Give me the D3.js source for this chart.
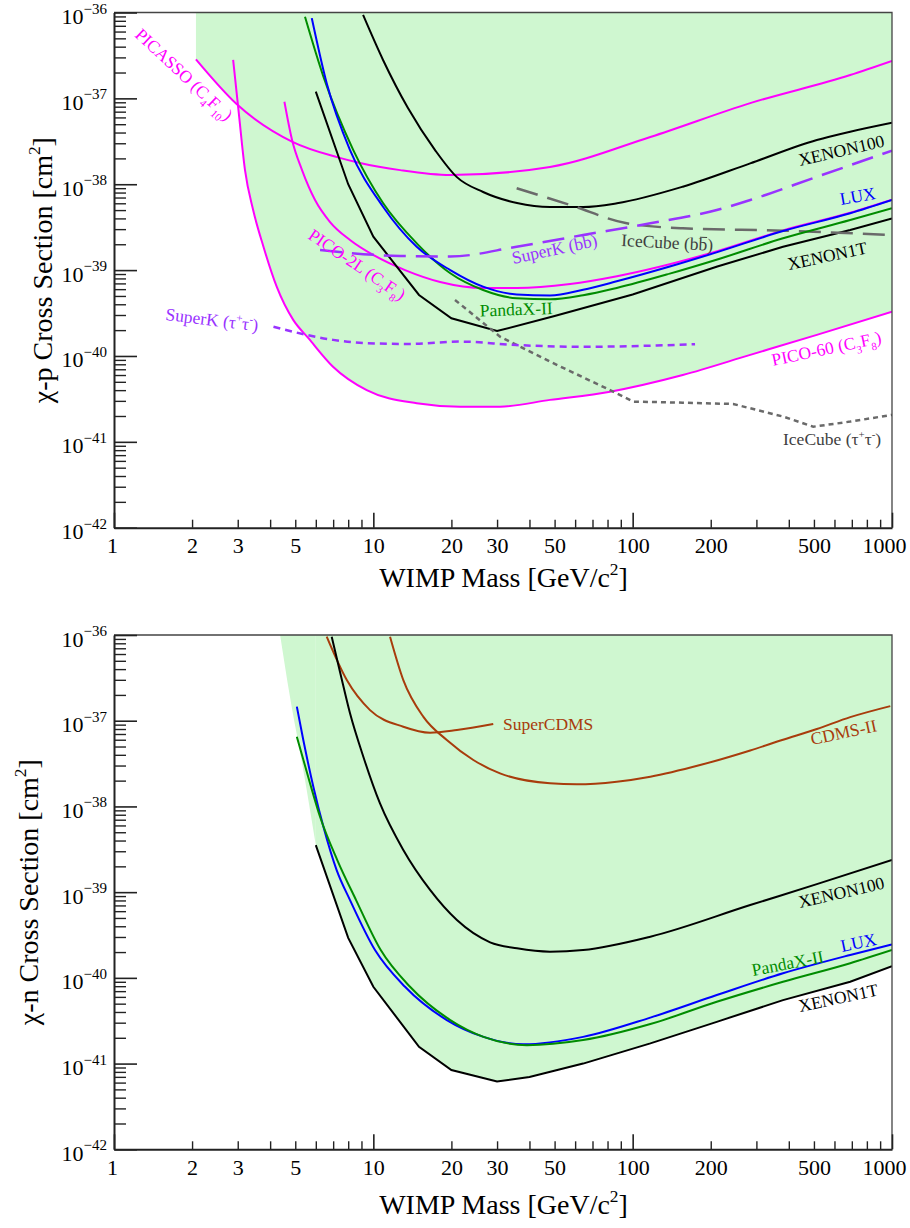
<!DOCTYPE html>
<html><head><meta charset="utf-8">
<script src="https://cdn.jsdelivr.net/npm/d3@7"></script>
<style>
html,body{margin:0;padding:0;background:#fff;}
svg text{font-family:"Liberation Serif","Times New Roman",serif;}
</style></head>
<body><svg id="chart" width="910" height="1228"></svg>
<script>
// ---------------- DATA ----------------
const massTickLabels = [1, 2, 3, 5, 10, 20, 30, 50, 100, 200, 500, 1000];
const massDecades = [1, 10, 100, 1000];
const sigmaDecades = [1e-42, 1e-41, 1e-40, 1e-39, 1e-38, 1e-37, 1e-36];

// chi-p (spin-dependent proton) panel : [mass GeV, cross section cm^2]
const picassoP = [[2.07,2.85e-37],[2.97,8.6e-38],[4.9,3.1e-38],[7.24,2.07e-38],[8.89,1.77e-38],[12.7,1.46e-38],[19.8,1.28e-38],[48,1.59e-38],[117,3.55e-38],[284,8.8e-38],[690,1.87e-37],[1000,2.73e-37]];
const pico60P = [[2.88,2.8e-37],[3.02,7.31e-38],[3.2,1.46e-38],[3.44,5.0e-39],[3.77,1.87e-39],[4.24,6.41e-40],[4.91,2.63e-40],[5.62,1.61e-40],[6.99,7.5e-41],[9.43,4.0e-41],[14.7,2.82e-41],[21.6,2.57e-41],[30.8,2.57e-41],[48,3.08e-41],[81.8,3.84e-41],[156,6.0e-41],[284,1.03e-40],[513,1.76e-40],[1000,3.28e-40]];
const pico2LP = [[4.54,9.14e-38],[4.86,3.27e-38],[5.31,1.46e-38],[5.96,6.55e-39],[6.81,3.63e-39],[8.13,2.24e-39],[10.15,1.46e-39],[13.25,1.0e-39],[18.1,7.27e-40],[26.5,6.19e-40],[35.8,6.19e-40],[57.4,6.9e-40],[87,8.5e-40],[212,1.66e-39],[380,2.9e-39],[690,4.65e-39],[1000,6.6e-39]];
const xenon100P = [[9.13,9.36e-37],[10.9,2.8e-37],[13.6,7.72e-38],[17.3,2.5e-38],[21.0,1.21e-38],[26.5,8.12e-39],[35.8,6.04e-39],[48,5.43e-39],[64.4,5.43e-39],[87,6.0e-39],[156,9.36e-39],[284,1.75e-38],[513,3.27e-38],[690,4.09e-38],[1000,5.2e-38]];
const xenon1tP = [[6,1.2e-37],[8,1.0e-38],[10,2.45e-39],[15,5.13e-40],[20,2.75e-40],[30,1.95e-40],[50,2.92e-40],[100,5.2e-40],[212,1.1e-39],[380,1.87e-39],[690,2.93e-39],[1000,4.0e-39]];
const luxP = [[5.79,8.6e-37],[6.61,1.5e-37],[8.13,2.5e-38],[10.9,5.47e-39],[14.7,1.87e-39],[19.8,1.0e-39],[26.5,6.41e-40],[35.7,5.2e-40],[48,5.06e-40],[64.4,5.9e-40],[86.8,7.4e-40],[139,1.1e-39],[212,1.62e-39],[380,2.85e-39],[690,4.59e-39],[1000,6.55e-39]];
const pandaxP = [[5.45,8.94e-37],[6.42,1.79e-37],[8.37,2.5e-38],[10.9,6.04e-39],[14.7,2.05e-39],[19.8,9.19e-40],[26.5,5.87e-40],[35.7,4.7e-40],[48,4.57e-40],[64.4,5.1e-40],[86.8,6.2e-40],[139,9.1e-40],[212,1.33e-39],[380,2.35e-39],[690,3.83e-39],[1000,5.25e-39]];
const superKbbP = [[6.23,1.71e-39],[12.7,1.46e-39],[19.8,1.44e-39],[35.7,1.87e-39],[64.4,2.56e-39],[117,3.51e-39],[211,5.0e-39],[284,6.55e-39],[513,1.22e-38],[1000,2.46e-38]];
const superKttP = [[4.12,2.19e-40],[5.53,1.76e-40],[7.0,1.54e-40],[9.43,1.41e-40],[13.8,1.38e-40],[21.6,1.47e-40],[35.7,1.34e-40],[64.4,1.28e-40],[174,1.37e-40]];
const iceCubeBbP = [[35.7,8.97e-39],[57.4,5.73e-39],[94.9,3.51e-39],[156,3.07e-39],[380,2.88e-39],[1000,2.56e-39]];
const iceCubeTtP = [[20.65,4.49e-40],[30.8,1.68e-40],[48,8.6e-41],[81.8,4.0e-41],[100.6,2.94e-41],[156,2.86e-41],[244,2.76e-41],[380,1.97e-41],[497,1.5e-41],[690,1.72e-41],[1000,2.06e-41]];

// chi-n (spin-dependent neutron) panel
const bandEdgeN = [[4.37,1e-36],[4.77,1.9e-37],[5.37,2.66e-38],[6.0,3.54e-39]];
const xenon100N = [[6.91,9.55e-37],[7.44,3.7e-37],[8.13,1.22e-37],[9.15,3.8e-38],[10.6,1.09e-38],[13.05,3.1e-39],[16.55,1.06e-39],[21.0,4.72e-40],[28.2,2.6e-40],[35.8,2.21e-40],[48,2.02e-40],[64.4,2.11e-40],[117,3.02e-40],[284,7.07e-40],[513,1.24e-39],[1000,2.37e-39]];
const xenon1tN = [[6,3.54e-39],[8,2.93e-40],[10,7.87e-41],[15,1.57e-41],[20,8.42e-42],[30,6.18e-42],[40,6.97e-42],[64.4,1.0e-41],[117,1.72e-41],[211,3.07e-41],[380,5.5e-41],[690,9.0e-41],[1000,1.37e-40]];
const luxN = [[5.07,1.46e-37],[5.37,5.95e-38],[5.87,1.7e-38],[6.42,5.79e-39],[7.22,1.81e-39],[8.13,8.08e-40],[10.15,2.11e-40],[13.25,7.87e-41],[19.2,3.22e-41],[26.6,2.05e-41],[37.9,1.68e-41],[64.4,2.05e-41],[117,3.44e-41],[211,6.3e-41],[380,1.13e-40],[690,1.85e-40],[1000,2.46e-40]];
const pandaxN = [[5.07,6.5e-38],[5.70,1.86e-38],[6.23,7.58e-39],[7.26,2.37e-39],[8.58,8.08e-40],[10.68,2.11e-40],[13.85,7.87e-41],[19.8,3.22e-41],[26.6,2.05e-41],[39.1,1.64e-41],[64.4,1.88e-41],[117,2.89e-41],[211,5.26e-41],[380,9.0e-41],[690,1.48e-40],[1000,2.11e-40]];
const superCdmsN = [[6.61,9.55e-37],[7.90,2.98e-37],[9.71,1.33e-37],[13.05,8.5e-38],[16.55,7.24e-38],[21.0,7.78e-38],[29.0,9.15e-38]];
const cdms2N = [[11.6,9.55e-37],[13.05,2.98e-37],[15.6,1.11e-37],[19.2,5.95e-38],[24.3,3.48e-38],[30.8,2.43e-38],[48,1.86e-38],[60.9,1.81e-38],[86.8,1.94e-38],[117,2.22e-38],[182,3.04e-38],[284,4.5e-38],[380,6.0e-38],[513,8.0e-38],[690,1.1e-37],[985,1.48e-37]];

// label texts
const txtPicasso = [["PICASSO (C",""],["4","sub"],["F",""],["10","sub"],[")",""]];
const txtPico2L = [["PICO-2L (C",""],["3","sub"],["F",""],["8","sub"],[")",""]];
const txtPico60 = [["PICO-60 (C",""],["3","sub"],["F",""],["8","sub"],[")",""]];
const txtSuperKtt = [["SuperK (τ",""],["+","sup"],["τ",""],["-","sup"],[")",""]];
const txtSuperKbb = [["SuperK (b",""],["b","bar"],[")",""]];
const txtIceCubeBb = [["IceCube (b",""],["b","bar"],[")",""]];
const txtIceCubeTt = [["IceCube (τ",""],["+","sup"],["τ",""],["-","sup"],[")",""]];

// ---------------- STYLE / LAYOUT ----------------
const C = {mag:"#ff00ff", blk:"#000000", blue:"#0000ff", green:"#008c00", purple:"#9933ff", gray:"#6a6a6a", grayTxt:"#404040", brown:"#a83c0c", fill:"#cff7d0"};
const X0 = 114, X1 = 892;
const smooth = d3.curveMonotoneX, lin = d3.curveLinear;

const panels = [
  { top: 12.5, bottom: 527.7, ytitle: "χ-p Cross Section [cm", ytx: 52, xty: 587,
    fills: [{d: picassoP, c: smooth}, {d: pico60P, c: smooth}],
    series: [
      {d: picassoP, col: C.mag, w: 2, c: smooth},
      {d: pico60P, col: C.mag, w: 2, c: smooth},
      {d: pico2LP, col: C.mag, w: 2, c: smooth},
      {d: xenon100P, col: C.blk, w: 2, c: smooth},
      {d: xenon1tP, col: C.blk, w: 2, c: lin},
      {d: iceCubeBbP, col: C.gray, w: 2.5, c: smooth, dash: "22,10"},
      {d: iceCubeTtP, col: C.gray, w: 2.5, c: lin, dash: "5,4"},
      {d: pandaxP, col: C.green, w: 2, c: smooth},
      {d: luxP, col: C.blue, w: 2, c: smooth},
      {d: superKttP, col: C.purple, w: 2.5, c: smooth, dash: "7,5"},
      {d: superKbbP, col: C.purple, w: 2.5, c: smooth, dash: "22,10"}
    ],
    labels: [
      {t: txtPicasso, at: [1.194, 5.33e-37], a: 43, col: C.mag},
      {t: txtPico2L, at: [5.55, 2.37e-39], a: 34, col: C.mag},
      {t: txtSuperKtt, at: [1.573, 2.63e-40], a: 7, col: C.purple},
      {t: txtSuperKbb, at: [34.6, 1.18e-39], a: -12, col: C.purple},
      {t: txtIceCubeBb, at: [90.2, 1.91e-39], a: 3, col: C.grayTxt},
      {t: [["XENON100",""]], at: [442, 1.63e-38], a: -13, col: C.blk},
      {t: [["LUX",""]], at: [636, 5.73e-39], a: -10, col: C.blue},
      {t: [["XENON1T",""]], at: [401, 1.0e-39], a: -12, col: C.blk},
      {t: [["PandaX-II",""]], at: [25.8, 2.88e-40], a: -2, col: C.green},
      {t: txtPico60, at: [348, 7.65e-41], a: -12, col: C.mag},
      {t: txtIceCubeTt, at: [380, 9.19e-42], a: 0, col: C.grayTxt}
    ]
  },
  { top: 635, bottom: 1149.3, ytitle: "χ-n Cross Section [cm", ytx: 38, xty: 1214,
    fills: [{d: bandEdgeN, c: smooth}, {d: xenon1tN, c: lin}],
    series: [
      {d: superCdmsN, col: C.brown, w: 2, c: smooth},
      {d: cdms2N, col: C.brown, w: 2, c: smooth},
      {d: xenon100N, col: C.blk, w: 2, c: smooth},
      {d: xenon1tN, col: C.blk, w: 2, c: lin},
      {d: luxN, col: C.blue, w: 2, c: smooth},
      {d: pandaxN, col: C.green, w: 2, c: smooth}
    ],
    labels: [
      {t: [["SuperCDMS",""]], at: [31.6, 7.79e-38], a: 0, col: C.brown},
      {t: [["CDMS-II",""]], at: [492, 5.2e-38], a: -12, col: C.brown},
      {t: [["XENON100",""]], at: [442, 6.52e-40], a: -13, col: C.blk},
      {t: [["LUX",""]], at: [642, 2.0e-40], a: -12, col: C.blue},
      {t: [["PandaX-II",""]], at: [291, 1.05e-40], a: -11, col: C.green},
      {t: [["XENON1T",""]], at: [442, 3.99e-41], a: -12, col: C.blk}
    ]
  }
];

// ---------------- DRAW ----------------
const svg = d3.select("#chart");
const LFS = 17.5;

// appends tspans; returns indices of characters that need an overline
function rich(sel, parts, fs) {
  let shift = 0, n = 0;
  const bars = [];
  parts.forEach(([t, k]) => {
    const ts = sel.append("tspan").text(t);
    const target = k === "sub" ? fs * 0.32 : k === "sup" ? -fs * 0.42 : 0;
    if (target - shift !== 0) ts.attr("dy", target - shift);
    shift = target;
    if (k === "sub" || k === "sup") ts.attr("font-size", fs * 0.62);
    if (k === "bar") for (let i = 0; i < t.length; i++) bars.push(n + i);
    n += t.length;
  });
  return bars;
}

const yMinor = [];
for (let e = -42; e < -36; e++) for (let k = 2; k <= 9; k++) yMinor.push(k * Math.pow(10, e));
const xMinor = [];
for (let e = 0; e < 3; e++) for (let k = 2; k <= 9; k++) xMinor.push(k * Math.pow(10, e));

panels.forEach((P, i) => {
  const x = d3.scaleLog().domain([1, 1000]).range([X0, X1]);
  const y = d3.scaleLog().domain([1e-42, 1e-36]).range([P.bottom, P.top]);
  const g = svg.append("g");
  const cid = "clip" + i;
  g.append("clipPath").attr("id", cid).append("rect")
    .attr("x", X0).attr("y", P.top).attr("width", X1 - X0).attr("height", P.bottom - P.top);
  const plot = g.append("g").attr("clip-path", `url(#${cid})`);

  P.fills.forEach(f => {
    plot.append("path").datum(f.d)
      .attr("d", d3.area().curve(f.c).x(d => x(d[0])).y0(P.top).y1(d => y(d[1])))
      .attr("fill", C.fill).attr("stroke", "none");
  });
  P.series.forEach(s => {
    plot.append("path").datum(s.d)
      .attr("d", d3.line().curve(s.c).x(d => x(d[0])).y(d => y(d[1])))
      .attr("fill", "none").attr("stroke", s.col).attr("stroke-width", s.w)
      .attr("stroke-dasharray", s.dash || null);
  });

  // frame top/right
  g.append("path").attr("d", `M${X0},${P.top}H${X1}V${P.bottom}`)
    .attr("fill", "none").attr("stroke", "#444").attr("stroke-width", 1.3);

  // Y axis
  const ya = g.append("g").attr("transform", `translate(${X0},0)`).attr("color", "#222");
  ya.append("g").call(d3.axisLeft(y).tickValues(yMinor).tickSize(-12).tickSizeOuter(0).tickFormat(""))
    .call(a => a.select(".domain").remove()).selectAll("line").attr("stroke-width", 1.4);
  const yM = ya.append("g").call(d3.axisLeft(y).tickValues(sigmaDecades).tickSize(-23).tickSizeOuter(0).tickPadding(7));
  yM.select(".domain").attr("stroke-width", 2);
  yM.selectAll("line").attr("stroke-width", 1.6);
  yM.selectAll(".tick text").attr("dy", null).attr("fill", "#000").text(null).each(function(d) {
    const e = Math.round(Math.log10(d));
    const t = d3.select(this);
    t.append("tspan").attr("dy", 11).attr("font-size", 22).text("10");
    t.append("tspan").attr("dy", -10.5).attr("font-size", 15).text("−" + (-e));
  });

  // X axis
  const xa = g.append("g").attr("transform", `translate(0,${P.bottom})`).attr("color", "#222");
  xa.append("g").call(d3.axisBottom(x).tickValues(xMinor).tickSize(-8).tickSizeOuter(0).tickFormat(""))
    .call(a => a.select(".domain").remove()).selectAll("line").attr("stroke-width", 1.4);
  const xM = xa.append("g").call(d3.axisBottom(x).tickValues(massDecades).tickSize(-15).tickSizeOuter(0).tickFormat(""));
  xM.select(".domain").attr("stroke-width", 2);
  xM.selectAll("line").attr("stroke-width", 1.6);
  const xL = xa.append("g").call(d3.axisBottom(x).tickValues(massTickLabels).tickSize(0).tickPadding(10).tickFormat(d3.format("d")));
  xL.select(".domain").remove();
  xL.selectAll("text").attr("font-size", 22).attr("fill", "#000")
    .attr("dx", d => d === 1 ? -2 : d === 1000 ? -8 : 0);

  // titles
  const xt = g.append("text").attr("x", 503.5).attr("y", P.xty).attr("text-anchor", "middle").attr("font-size", 28);
  rich(xt, [["WIMP Mass [GeV/c",""],["2","sup"],["]",""]], 28);
  const yt = g.append("text").attr("transform", `translate(${P.ytx},${(P.top + P.bottom) / 2}) rotate(-90)`)
    .attr("text-anchor", "middle").attr("font-size", 28);
  rich(yt, [[P.ytitle,""],["2","sup"],["]",""]], 28);

  // labels
  P.labels.forEach(L => {
    const px = x(L.at[0]), py = y(L.at[1]);
    const lg = g.append("g").attr("transform", `translate(${px},${py}) rotate(${L.a})`);
    const t = lg.append("text").attr("font-size", LFS).attr("fill", L.col);
    const bars = rich(t, L.t, LFS);
    const node = t.node();
    bars.forEach(ci => {
      const s = node.getStartPositionOfChar(ci), e = node.getEndPositionOfChar(ci);
      const yy = s.y - LFS * 0.74;
      lg.append("line").attr("x1", s.x + 1).attr("x2", e.x - 0.5).attr("y1", yy).attr("y2", yy)
        .attr("stroke", L.col).attr("stroke-width", 1);
    });
  });
});
</script>
</body></html>
